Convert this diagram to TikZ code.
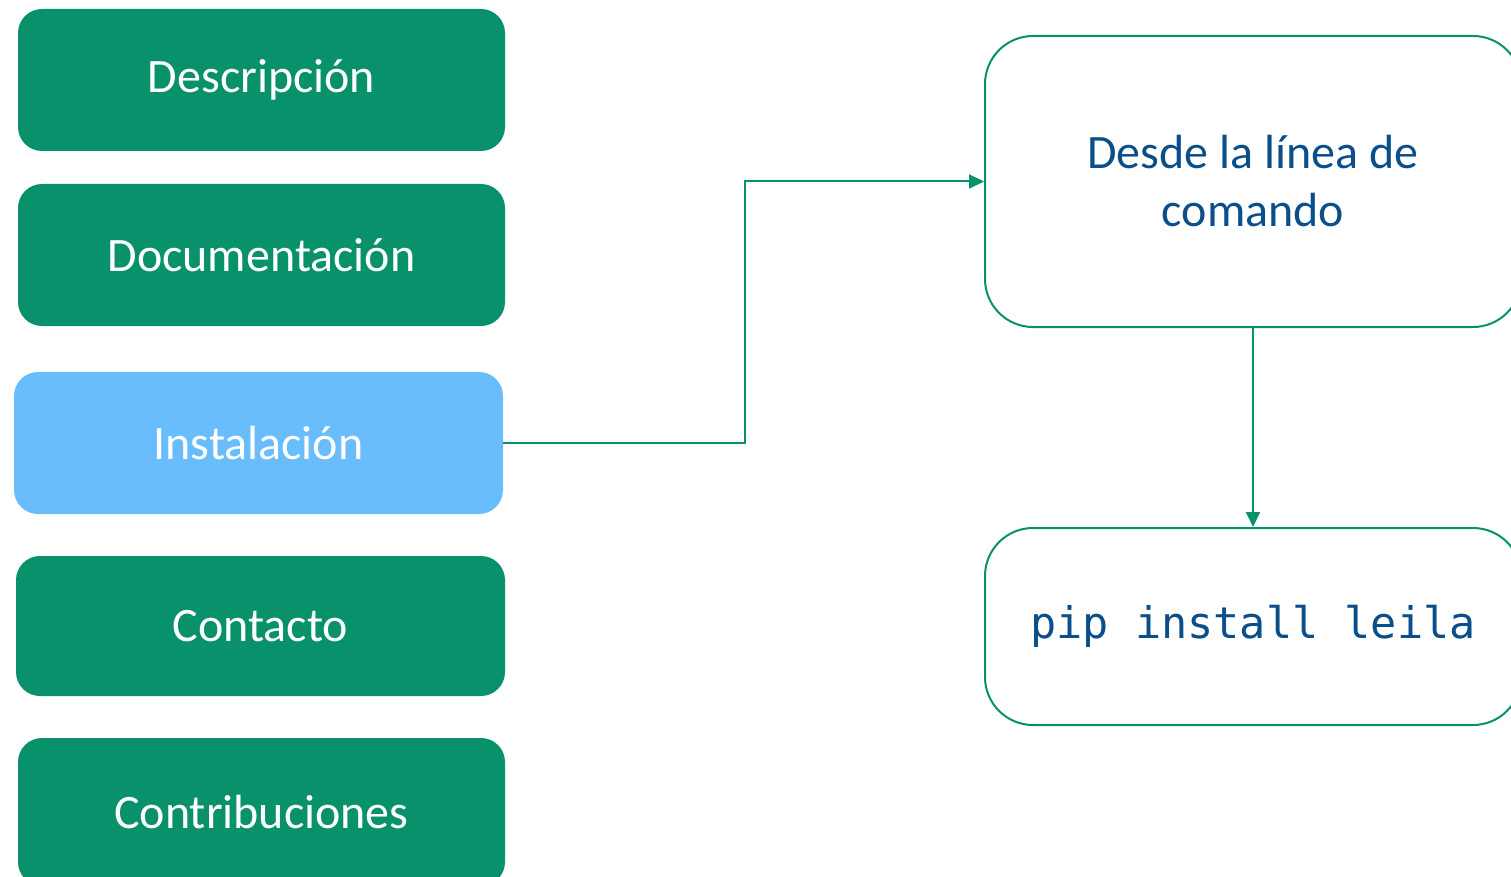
\documentclass[tikz,border=0pt]{standalone}
\usepackage{fontspec}
\setmainfont{Carlito}
\setmonofont{DejaVu Sans Mono}
\usetikzlibrary{arrows.meta}
\definecolor{leafgreen}{HTML}{08916A}
\definecolor{skyblue}{HTML}{69BDFD}
\definecolor{inkblue}{HTML}{0B4F8A}

\begin{document}
\begin{tikzpicture}[x=1pt,y=-1pt,
  menubox/.style={rectangle,rounded corners=24pt,fill=leafgreen,text=white,inner sep=0pt,
    minimum width=487pt,minimum height=142pt,font=\fontsize{48}{56}\selectfont},
  stepbox/.style={rectangle,rounded corners=48pt,draw=leafgreen,line width=2pt,fill=white,
    text=inkblue,inner sep=0pt,minimum width=536pt,align=center},
  link/.style={draw=leafgreen,line width=2pt,-{Triangle[length=15pt,width=14pt]}}]
\useasboundingbox (0,0) rectangle (1511,877);

\node[menubox] (descr) at (261.5,80) {Descripción};
\node[menubox] (docs) at (261.5,255) {Documentación};
\node[menubox,fill=skyblue,minimum width=489pt] (inst) at (258.5,443) {Instalación};
\node[menubox,minimum width=489pt,minimum height=140pt] (cont) at (260.5,626) {Contacto};
\node[menubox,minimum height=148pt] (contrib) at (261.5,812) {Contribuciones};

\node[stepbox,minimum height=291pt,font=\fontsize{48}{58}\selectfont] (cmdbox) at (1253,181.5) {Desde la línea de\\comando};
\node[stepbox,minimum height=197pt,font=\fontsize{43.5}{50}\ttfamily] (pipbox) at (1253,626.5) {pip install leila};

\draw[link] (inst.east) -- ++(242,0) |- (cmdbox.west);
\draw[link] (cmdbox.south) -- (pipbox.north);
\end{tikzpicture}
\end{document}
